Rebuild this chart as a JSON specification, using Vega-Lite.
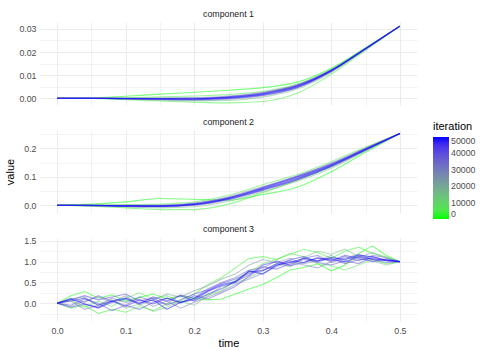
{
"$schema": "https://vega.github.io/schema/vega-lite/v6.json",
"padding": {"left": 4, "top": 10, "right": 4, "bottom": 4},
"spacing": 12,
"datasets": {
"c1": [
{"i":0,"t":0,"v":0},{"i":0,"t":0.05,"v":0.0001},{"i":0,"t":0.1,"v":0.0009},{"i":0,"t":0.15,"v":0.0018},{"i":0,"t":0.2,"v":0.0026},{"i":0,"t":0.25,"v":0.0035},{"i":0,"t":0.3,"v":0.0046},{"i":0,"t":0.35,"v":0.007},{"i":0,"t":0.4,"v":0.013},{"i":0,"t":0.45,"v":0.0219},{"i":0,"t":0.5,"v":0.0312},
{"i":2500,"t":0,"v":0},{"i":2500,"t":0.05,"v":-0.0001},{"i":2500,"t":0.1,"v":-0.0006},{"i":2500,"t":0.15,"v":-0.0012},{"i":2500,"t":0.2,"v":-0.0017},{"i":2500,"t":0.25,"v":-0.002},{"i":2500,"t":0.3,"v":-0.0014},{"i":2500,"t":0.35,"v":0.0022},{"i":2500,"t":0.4,"v":0.0104},{"i":2500,"t":0.45,"v":0.0208},{"i":2500,"t":0.5,"v":0.0312},
{"i":5000,"t":0,"v":0},{"i":5000,"t":0.05,"v":0},{"i":5000,"t":0.1,"v":0.0002},{"i":5000,"t":0.15,"v":0.0006},{"i":5000,"t":0.2,"v":0.001},{"i":5000,"t":0.25,"v":0.0016},{"i":5000,"t":0.3,"v":0.003},{"i":5000,"t":0.35,"v":0.0062},{"i":5000,"t":0.4,"v":0.0126},{"i":5000,"t":0.45,"v":0.0218},{"i":5000,"t":0.5,"v":0.0312},
{"i":15000,"t":0,"v":0},{"i":15000,"t":0.05,"v":0},{"i":15000,"t":0.1,"v":-0.0004},{"i":15000,"t":0.15,"v":-0.0008},{"i":15000,"t":0.2,"v":-0.0011},{"i":15000,"t":0.25,"v":-0.0009},{"i":15000,"t":0.3,"v":0.0005},{"i":15000,"t":0.35,"v":0.004},{"i":15000,"t":0.4,"v":0.0112},{"i":15000,"t":0.45,"v":0.0211},{"i":15000,"t":0.5,"v":0.0312},
{"i":25000,"t":0,"v":0},{"i":25000,"t":0.05,"v":0},{"i":25000,"t":0.1,"v":0.0001},{"i":25000,"t":0.15,"v":0.0002},{"i":25000,"t":0.2,"v":0.0003},{"i":25000,"t":0.25,"v":0.001},{"i":25000,"t":0.3,"v":0.0025},{"i":25000,"t":0.35,"v":0.0058},{"i":25000,"t":0.4,"v":0.0123},{"i":25000,"t":0.45,"v":0.0216},{"i":25000,"t":0.5,"v":0.0312},
{"i":30000,"t":0,"v":0},{"i":30000,"t":0.05,"v":0},{"i":30000,"t":0.1,"v":-0.0003},{"i":30000,"t":0.15,"v":-0.0006},{"i":30000,"t":0.2,"v":-0.0008},{"i":30000,"t":0.25,"v":-0.0004},{"i":30000,"t":0.3,"v":0.0011},{"i":30000,"t":0.35,"v":0.0046},{"i":30000,"t":0.4,"v":0.0116},{"i":30000,"t":0.45,"v":0.0213},{"i":30000,"t":0.5,"v":0.0312},
{"i":35000,"t":0,"v":0},{"i":35000,"t":0.05,"v":0},{"i":35000,"t":0.1,"v":0},{"i":35000,"t":0.15,"v":-0.0001},{"i":35000,"t":0.2,"v":0},{"i":35000,"t":0.25,"v":0.0007},{"i":35000,"t":0.3,"v":0.0022},{"i":35000,"t":0.35,"v":0.0055},{"i":35000,"t":0.4,"v":0.0121},{"i":35000,"t":0.45,"v":0.0215},{"i":35000,"t":0.5,"v":0.0312},
{"i":40000,"t":0,"v":0},{"i":40000,"t":0.05,"v":0},{"i":40000,"t":0.1,"v":-0.0002},{"i":40000,"t":0.15,"v":-0.0004},{"i":40000,"t":0.2,"v":-0.0005},{"i":40000,"t":0.25,"v":0},{"i":40000,"t":0.3,"v":0.0015},{"i":40000,"t":0.35,"v":0.0049},{"i":40000,"t":0.4,"v":0.0118},{"i":40000,"t":0.45,"v":0.0214},{"i":40000,"t":0.5,"v":0.0312},
{"i":42500,"t":0,"v":0},{"i":42500,"t":0.05,"v":0},{"i":42500,"t":0.1,"v":-0.0001},{"i":42500,"t":0.15,"v":-0.0001},{"i":42500,"t":0.2,"v":0},{"i":42500,"t":0.25,"v":0.0007},{"i":42500,"t":0.3,"v":0.0024},{"i":42500,"t":0.35,"v":0.0057},{"i":42500,"t":0.4,"v":0.0122},{"i":42500,"t":0.45,"v":0.0216},{"i":42500,"t":0.5,"v":0.0312},
{"i":45000,"t":0,"v":0},{"i":45000,"t":0.05,"v":0},{"i":45000,"t":0.1,"v":-0.0003},{"i":45000,"t":0.15,"v":-0.0005},{"i":45000,"t":0.2,"v":-0.0006},{"i":45000,"t":0.25,"v":-0.0001},{"i":45000,"t":0.3,"v":0.0013},{"i":45000,"t":0.35,"v":0.0046},{"i":45000,"t":0.4,"v":0.0117},{"i":45000,"t":0.45,"v":0.0213},{"i":45000,"t":0.5,"v":0.0312},
{"i":47500,"t":0,"v":0},{"i":47500,"t":0.05,"v":0},{"i":47500,"t":0.1,"v":-0.0001},{"i":47500,"t":0.15,"v":-0.0002},{"i":47500,"t":0.2,"v":-0.0002},{"i":47500,"t":0.25,"v":0.0004},{"i":47500,"t":0.3,"v":0.002},{"i":47500,"t":0.35,"v":0.0053},{"i":47500,"t":0.4,"v":0.012},{"i":47500,"t":0.45,"v":0.0215},{"i":47500,"t":0.5,"v":0.0312},
{"i":50000,"t":0,"v":0},{"i":50000,"t":0.05,"v":0},{"i":50000,"t":0.1,"v":-0.0001},{"i":50000,"t":0.15,"v":-0.0002},{"i":50000,"t":0.2,"v":-0.0003},{"i":50000,"t":0.25,"v":0.0003},{"i":50000,"t":0.3,"v":0.0018},{"i":50000,"t":0.35,"v":0.0051},{"i":50000,"t":0.4,"v":0.012},{"i":50000,"t":0.45,"v":0.0215},{"i":50000,"t":0.5,"v":0.0312}
],
"c2": [
{"i":0,"t":0,"v":0},{"i":0,"t":0.05,"v":0.004},{"i":0,"t":0.1,"v":0.012},{"i":0,"t":0.15,"v":0.024},{"i":0,"t":0.2,"v":0.021},{"i":0,"t":0.25,"v":0.018},{"i":0,"t":0.3,"v":0.038},{"i":0,"t":0.35,"v":0.063},{"i":0,"t":0.4,"v":0.118},{"i":0,"t":0.45,"v":0.186},{"i":0,"t":0.5,"v":0.252},
{"i":2500,"t":0,"v":0},{"i":2500,"t":0.05,"v":-0.003},{"i":2500,"t":0.1,"v":-0.009},{"i":2500,"t":0.15,"v":-0.015},{"i":2500,"t":0.2,"v":-0.015},{"i":2500,"t":0.25,"v":0.004},{"i":2500,"t":0.3,"v":0.044},{"i":2500,"t":0.35,"v":0.088},{"i":2500,"t":0.4,"v":0.138},{"i":2500,"t":0.45,"v":0.196},{"i":2500,"t":0.5,"v":0.252},
{"i":5000,"t":0,"v":0},{"i":5000,"t":0.05,"v":0.001},{"i":5000,"t":0.1,"v":0.002},{"i":5000,"t":0.15,"v":0.004},{"i":5000,"t":0.2,"v":0.012},{"i":5000,"t":0.25,"v":0.035},{"i":5000,"t":0.3,"v":0.072},{"i":5000,"t":0.35,"v":0.108},{"i":5000,"t":0.4,"v":0.153},{"i":5000,"t":0.45,"v":0.204},{"i":5000,"t":0.5,"v":0.252},
{"i":15000,"t":0,"v":0},{"i":15000,"t":0.05,"v":-0.002},{"i":15000,"t":0.1,"v":-0.006},{"i":15000,"t":0.15,"v":-0.009},{"i":15000,"t":0.2,"v":-0.005},{"i":15000,"t":0.25,"v":0.014},{"i":15000,"t":0.3,"v":0.048},{"i":15000,"t":0.35,"v":0.084},{"i":15000,"t":0.4,"v":0.13},{"i":15000,"t":0.45,"v":0.19},{"i":15000,"t":0.5,"v":0.252},
{"i":25000,"t":0,"v":0},{"i":25000,"t":0.05,"v":0},{"i":25000,"t":0.1,"v":0.001},{"i":25000,"t":0.15,"v":0.001},{"i":25000,"t":0.2,"v":0.008},{"i":25000,"t":0.25,"v":0.03},{"i":25000,"t":0.3,"v":0.066},{"i":25000,"t":0.35,"v":0.102},{"i":25000,"t":0.4,"v":0.148},{"i":25000,"t":0.45,"v":0.201},{"i":25000,"t":0.5,"v":0.252},
{"i":30000,"t":0,"v":0},{"i":30000,"t":0.05,"v":-0.001},{"i":30000,"t":0.1,"v":-0.004},{"i":30000,"t":0.15,"v":-0.006},{"i":30000,"t":0.2,"v":0},{"i":30000,"t":0.25,"v":0.019},{"i":30000,"t":0.3,"v":0.052},{"i":30000,"t":0.35,"v":0.089},{"i":30000,"t":0.4,"v":0.135},{"i":30000,"t":0.45,"v":0.193},{"i":30000,"t":0.5,"v":0.252},
{"i":35000,"t":0,"v":0},{"i":35000,"t":0.05,"v":0},{"i":35000,"t":0.1,"v":-0.001},{"i":35000,"t":0.15,"v":-0.002},{"i":35000,"t":0.2,"v":0.005},{"i":35000,"t":0.25,"v":0.027},{"i":35000,"t":0.3,"v":0.062},{"i":35000,"t":0.35,"v":0.099},{"i":35000,"t":0.4,"v":0.144},{"i":35000,"t":0.45,"v":0.199},{"i":35000,"t":0.5,"v":0.252},
{"i":40000,"t":0,"v":0},{"i":40000,"t":0.05,"v":-0.001},{"i":40000,"t":0.1,"v":-0.003},{"i":40000,"t":0.15,"v":-0.004},{"i":40000,"t":0.2,"v":0.002},{"i":40000,"t":0.25,"v":0.022},{"i":40000,"t":0.3,"v":0.055},{"i":40000,"t":0.35,"v":0.092},{"i":40000,"t":0.4,"v":0.138},{"i":40000,"t":0.45,"v":0.195},{"i":40000,"t":0.5,"v":0.252},
{"i":42500,"t":0,"v":0},{"i":42500,"t":0.05,"v":0},{"i":42500,"t":0.1,"v":-0.001},{"i":42500,"t":0.15,"v":-0.001},{"i":42500,"t":0.2,"v":0.006},{"i":42500,"t":0.25,"v":0.027},{"i":42500,"t":0.3,"v":0.063},{"i":42500,"t":0.35,"v":0.103},{"i":42500,"t":0.4,"v":0.146},{"i":42500,"t":0.45,"v":0.199},{"i":42500,"t":0.5,"v":0.252},
{"i":45000,"t":0,"v":0},{"i":45000,"t":0.05,"v":-0.001},{"i":45000,"t":0.1,"v":-0.003},{"i":45000,"t":0.15,"v":-0.004},{"i":45000,"t":0.2,"v":0.001},{"i":45000,"t":0.25,"v":0.021},{"i":45000,"t":0.3,"v":0.054},{"i":45000,"t":0.35,"v":0.09},{"i":45000,"t":0.4,"v":0.136},{"i":45000,"t":0.45,"v":0.193},{"i":45000,"t":0.5,"v":0.252},
{"i":47500,"t":0,"v":0},{"i":47500,"t":0.05,"v":0},{"i":47500,"t":0.1,"v":-0.002},{"i":47500,"t":0.15,"v":-0.002},{"i":47500,"t":0.2,"v":0.004},{"i":47500,"t":0.25,"v":0.025},{"i":47500,"t":0.3,"v":0.06},{"i":47500,"t":0.35,"v":0.099},{"i":47500,"t":0.4,"v":0.142},{"i":47500,"t":0.45,"v":0.197},{"i":47500,"t":0.5,"v":0.252},
{"i":50000,"t":0,"v":0},{"i":50000,"t":0.05,"v":0},{"i":50000,"t":0.1,"v":-0.002},{"i":50000,"t":0.15,"v":-0.003},{"i":50000,"t":0.2,"v":0.003},{"i":50000,"t":0.25,"v":0.024},{"i":50000,"t":0.3,"v":0.058},{"i":50000,"t":0.35,"v":0.095},{"i":50000,"t":0.4,"v":0.14},{"i":50000,"t":0.45,"v":0.196},{"i":50000,"t":0.5,"v":0.252}
],
"c3": [
{"i":0,"t":0,"v":0},{"i":0,"t":0.02,"v":0.18},{"i":0,"t":0.04,"v":0.28},{"i":0,"t":0.06,"v":0.12},{"i":0,"t":0.08,"v":0.2},{"i":0,"t":0.1,"v":0.05},{"i":0,"t":0.12,"v":0.14},{"i":0,"t":0.14,"v":0.22},{"i":0,"t":0.16,"v":0.1},{"i":0,"t":0.18,"v":0.18},{"i":0,"t":0.2,"v":0.12},{"i":0,"t":0.22,"v":0.08},{"i":0,"t":0.24,"v":0.1},{"i":0,"t":0.26,"v":0.22},{"i":0,"t":0.28,"v":0.34},{"i":0,"t":0.3,"v":0.45},{"i":0,"t":0.32,"v":0.62},{"i":0,"t":0.34,"v":0.8},{"i":0,"t":0.36,"v":0.86},{"i":0,"t":0.38,"v":0.95},{"i":0,"t":0.4,"v":0.78},{"i":0,"t":0.42,"v":0.92},{"i":0,"t":0.44,"v":1.2},{"i":0,"t":0.46,"v":1.38},{"i":0,"t":0.48,"v":1.15},{"i":0,"t":0.5,"v":1},
{"i":2500,"t":0,"v":0},{"i":2500,"t":0.02,"v":-0.12},{"i":2500,"t":0.04,"v":-0.05},{"i":2500,"t":0.06,"v":-0.25},{"i":2500,"t":0.08,"v":-0.15},{"i":2500,"t":0.1,"v":-0.22},{"i":2500,"t":0.12,"v":-0.08},{"i":2500,"t":0.14,"v":-0.18},{"i":2500,"t":0.16,"v":-0.02},{"i":2500,"t":0.18,"v":0.05},{"i":2500,"t":0.2,"v":0.22},{"i":2500,"t":0.22,"v":0.45},{"i":2500,"t":0.24,"v":0.62},{"i":2500,"t":0.26,"v":0.85},{"i":2500,"t":0.28,"v":1.08},{"i":2500,"t":0.3,"v":1.12},{"i":2500,"t":0.32,"v":1.05},{"i":2500,"t":0.34,"v":1.18},{"i":2500,"t":0.36,"v":1.3},{"i":2500,"t":0.38,"v":1.22},{"i":2500,"t":0.4,"v":1.08},{"i":2500,"t":0.42,"v":1.25},{"i":2500,"t":0.44,"v":1.35},{"i":2500,"t":0.46,"v":1.2},{"i":2500,"t":0.48,"v":1.12},{"i":2500,"t":0.5,"v":1},
{"i":5000,"t":0,"v":0},{"i":5000,"t":0.02,"v":0.08},{"i":5000,"t":0.04,"v":-0.1},{"i":5000,"t":0.06,"v":0.05},{"i":5000,"t":0.08,"v":-0.08},{"i":5000,"t":0.1,"v":0.12},{"i":5000,"t":0.12,"v":0.25},{"i":5000,"t":0.14,"v":0.1},{"i":5000,"t":0.16,"v":0.18},{"i":5000,"t":0.18,"v":0.02},{"i":5000,"t":0.2,"v":0.1},{"i":5000,"t":0.22,"v":0.2},{"i":5000,"t":0.24,"v":0.3},{"i":5000,"t":0.26,"v":0.55},{"i":5000,"t":0.28,"v":0.75},{"i":5000,"t":0.3,"v":0.95},{"i":5000,"t":0.32,"v":1.05},{"i":5000,"t":0.34,"v":1.2},{"i":5000,"t":0.36,"v":1.12},{"i":5000,"t":0.38,"v":0.95},{"i":5000,"t":0.4,"v":0.9},{"i":5000,"t":0.42,"v":0.8},{"i":5000,"t":0.44,"v":0.92},{"i":5000,"t":0.46,"v":1.05},{"i":5000,"t":0.48,"v":0.95},{"i":5000,"t":0.5,"v":1},
{"i":15000,"t":0,"v":0},{"i":15000,"t":0.02,"v":0.1},{"i":15000,"t":0.04,"v":0.15},{"i":15000,"t":0.06,"v":-0.05},{"i":15000,"t":0.08,"v":0.08},{"i":15000,"t":0.1,"v":-0.12},{"i":15000,"t":0.12,"v":-0.02},{"i":15000,"t":0.14,"v":-0.2},{"i":15000,"t":0.16,"v":-0.1},{"i":15000,"t":0.18,"v":0.05},{"i":15000,"t":0.2,"v":-0.05},{"i":15000,"t":0.22,"v":0.18},{"i":15000,"t":0.24,"v":0.4},{"i":15000,"t":0.26,"v":0.48},{"i":15000,"t":0.28,"v":0.62},{"i":15000,"t":0.3,"v":0.78},{"i":15000,"t":0.32,"v":0.95},{"i":15000,"t":0.34,"v":0.88},{"i":15000,"t":0.36,"v":1.1},{"i":15000,"t":0.38,"v":1.25},{"i":15000,"t":0.4,"v":1.18},{"i":15000,"t":0.42,"v":1.3},{"i":15000,"t":0.44,"v":1.12},{"i":15000,"t":0.46,"v":1.02},{"i":15000,"t":0.48,"v":0.92},{"i":15000,"t":0.5,"v":1},
{"i":25000,"t":0,"v":0},{"i":25000,"t":0.02,"v":-0.08},{"i":25000,"t":0.04,"v":0.05},{"i":25000,"t":0.06,"v":0.15},{"i":25000,"t":0.08,"v":0.02},{"i":25000,"t":0.1,"v":0.18},{"i":25000,"t":0.12,"v":-0.05},{"i":25000,"t":0.14,"v":0.08},{"i":25000,"t":0.16,"v":0.22},{"i":25000,"t":0.18,"v":0.15},{"i":25000,"t":0.2,"v":0.3},{"i":25000,"t":0.22,"v":0.42},{"i":25000,"t":0.24,"v":0.58},{"i":25000,"t":0.26,"v":0.7},{"i":25000,"t":0.28,"v":0.92},{"i":25000,"t":0.3,"v":1.05},{"i":25000,"t":0.32,"v":0.98},{"i":25000,"t":0.34,"v":1.08},{"i":25000,"t":0.36,"v":0.95},{"i":25000,"t":0.38,"v":1.02},{"i":25000,"t":0.4,"v":1.15},{"i":25000,"t":0.42,"v":0.98},{"i":25000,"t":0.44,"v":1.1},{"i":25000,"t":0.46,"v":1.22},{"i":25000,"t":0.48,"v":1.08},{"i":25000,"t":0.5,"v":1},
{"i":30000,"t":0,"v":0},{"i":30000,"t":0.02,"v":0.05},{"i":30000,"t":0.04,"v":-0.15},{"i":30000,"t":0.06,"v":-0.05},{"i":30000,"t":0.08,"v":0.12},{"i":30000,"t":0.1,"v":0.02},{"i":30000,"t":0.12,"v":0.1},{"i":30000,"t":0.14,"v":-0.08},{"i":30000,"t":0.16,"v":0.05},{"i":30000,"t":0.18,"v":-0.12},{"i":30000,"t":0.2,"v":0.02},{"i":30000,"t":0.22,"v":0.15},{"i":30000,"t":0.24,"v":0.28},{"i":30000,"t":0.26,"v":0.45},{"i":30000,"t":0.28,"v":0.58},{"i":30000,"t":0.3,"v":0.72},{"i":30000,"t":0.32,"v":0.88},{"i":30000,"t":0.34,"v":1},{"i":30000,"t":0.36,"v":0.92},{"i":30000,"t":0.38,"v":0.85},{"i":30000,"t":0.4,"v":1},{"i":30000,"t":0.42,"v":1.12},{"i":30000,"t":0.44,"v":1.02},{"i":30000,"t":0.46,"v":1.15},{"i":30000,"t":0.48,"v":1.1},{"i":30000,"t":0.5,"v":1},
{"i":35000,"t":0,"v":0},{"i":35000,"t":0.02,"v":0.12},{"i":35000,"t":0.04,"v":0.02},{"i":35000,"t":0.06,"v":0.18},{"i":35000,"t":0.08,"v":0.05},{"i":35000,"t":0.1,"v":-0.05},{"i":35000,"t":0.12,"v":0.15},{"i":35000,"t":0.14,"v":0.05},{"i":35000,"t":0.16,"v":-0.02},{"i":35000,"t":0.18,"v":0.2},{"i":35000,"t":0.2,"v":0.12},{"i":35000,"t":0.22,"v":0.35},{"i":35000,"t":0.24,"v":0.5},{"i":35000,"t":0.26,"v":0.62},{"i":35000,"t":0.28,"v":0.8},{"i":35000,"t":0.3,"v":0.85},{"i":35000,"t":0.32,"v":1.02},{"i":35000,"t":0.34,"v":0.92},{"i":35000,"t":0.36,"v":1.08},{"i":35000,"t":0.38,"v":1.15},{"i":35000,"t":0.4,"v":0.98},{"i":35000,"t":0.42,"v":1.08},{"i":35000,"t":0.44,"v":1.18},{"i":35000,"t":0.46,"v":1.05},{"i":35000,"t":0.48,"v":0.98},{"i":35000,"t":0.5,"v":1},
{"i":40000,"t":0,"v":0},{"i":40000,"t":0.02,"v":-0.05},{"i":40000,"t":0.04,"v":0.1},{"i":40000,"t":0.06,"v":0},{"i":40000,"t":0.08,"v":-0.18},{"i":40000,"t":0.1,"v":-0.05},{"i":40000,"t":0.12,"v":-0.15},{"i":40000,"t":0.14,"v":0.02},{"i":40000,"t":0.16,"v":0.12},{"i":40000,"t":0.18,"v":0},{"i":40000,"t":0.2,"v":0.18},{"i":40000,"t":0.22,"v":0.1},{"i":40000,"t":0.24,"v":0.25},{"i":40000,"t":0.26,"v":0.4},{"i":40000,"t":0.28,"v":0.65},{"i":40000,"t":0.3,"v":0.88},{"i":40000,"t":0.32,"v":0.82},{"i":40000,"t":0.34,"v":0.95},{"i":40000,"t":0.36,"v":1.05},{"i":40000,"t":0.38,"v":0.98},{"i":40000,"t":0.4,"v":0.92},{"i":40000,"t":0.42,"v":1.02},{"i":40000,"t":0.44,"v":0.95},{"i":40000,"t":0.46,"v":1.12},{"i":40000,"t":0.48,"v":1.02},{"i":40000,"t":0.5,"v":1},
{"i":42500,"t":0,"v":0},{"i":42500,"t":0.02,"v":0.08},{"i":42500,"t":0.04,"v":0.18},{"i":42500,"t":0.06,"v":0.08},{"i":42500,"t":0.08,"v":0.15},{"i":42500,"t":0.1,"v":0.22},{"i":42500,"t":0.12,"v":0.05},{"i":42500,"t":0.14,"v":0.12},{"i":42500,"t":0.16,"v":-0.05},{"i":42500,"t":0.18,"v":0.08},{"i":42500,"t":0.2,"v":0.22},{"i":42500,"t":0.22,"v":0.32},{"i":42500,"t":0.24,"v":0.48},{"i":42500,"t":0.26,"v":0.58},{"i":42500,"t":0.28,"v":0.72},{"i":42500,"t":0.3,"v":0.8},{"i":42500,"t":0.32,"v":0.9},{"i":42500,"t":0.34,"v":1.05},{"i":42500,"t":0.36,"v":1.12},{"i":42500,"t":0.38,"v":1},{"i":42500,"t":0.4,"v":1.08},{"i":42500,"t":0.42,"v":0.95},{"i":42500,"t":0.44,"v":1.05},{"i":42500,"t":0.46,"v":1.08},{"i":42500,"t":0.48,"v":1.02},{"i":42500,"t":0.5,"v":1},
{"i":45000,"t":0,"v":0},{"i":45000,"t":0.02,"v":-0.1},{"i":45000,"t":0.04,"v":-0.02},{"i":45000,"t":0.06,"v":-0.12},{"i":45000,"t":0.08,"v":0.02},{"i":45000,"t":0.1,"v":0.1},{"i":45000,"t":0.12,"v":-0.02},{"i":45000,"t":0.14,"v":0.15},{"i":45000,"t":0.16,"v":0.05},{"i":45000,"t":0.18,"v":0.18},{"i":45000,"t":0.2,"v":0.05},{"i":45000,"t":0.22,"v":0.22},{"i":45000,"t":0.24,"v":0.35},{"i":45000,"t":0.26,"v":0.52},{"i":45000,"t":0.28,"v":0.68},{"i":45000,"t":0.3,"v":0.92},{"i":45000,"t":0.32,"v":1},{"i":45000,"t":0.34,"v":0.9},{"i":45000,"t":0.36,"v":0.98},{"i":45000,"t":0.38,"v":1.1},{"i":45000,"t":0.4,"v":1.02},{"i":45000,"t":0.42,"v":1.15},{"i":45000,"t":0.44,"v":1.08},{"i":45000,"t":0.46,"v":1},{"i":45000,"t":0.48,"v":1.06},{"i":45000,"t":0.5,"v":1},
{"i":47500,"t":0,"v":0},{"i":47500,"t":0.02,"v":0.05},{"i":47500,"t":0.04,"v":0.12},{"i":47500,"t":0.06,"v":-0.05},{"i":47500,"t":0.08,"v":0.05},{"i":47500,"t":0.1,"v":-0.08},{"i":47500,"t":0.12,"v":0.08},{"i":47500,"t":0.14,"v":-0.02},{"i":47500,"t":0.16,"v":0.12},{"i":47500,"t":0.18,"v":0.02},{"i":47500,"t":0.2,"v":0.08},{"i":47500,"t":0.22,"v":0.28},{"i":47500,"t":0.24,"v":0.42},{"i":47500,"t":0.26,"v":0.5},{"i":47500,"t":0.28,"v":0.76},{"i":47500,"t":0.3,"v":0.78},{"i":47500,"t":0.32,"v":0.95},{"i":47500,"t":0.34,"v":1.02},{"i":47500,"t":0.36,"v":0.98},{"i":47500,"t":0.38,"v":1.08},{"i":47500,"t":0.4,"v":1.05},{"i":47500,"t":0.42,"v":1},{"i":47500,"t":0.44,"v":1.12},{"i":47500,"t":0.46,"v":1.06},{"i":47500,"t":0.48,"v":1.03},{"i":47500,"t":0.5,"v":1},
{"i":50000,"t":0,"v":0},{"i":50000,"t":0.02,"v":0.1},{"i":50000,"t":0.04,"v":-0.02},{"i":50000,"t":0.06,"v":-0.1},{"i":50000,"t":0.08,"v":0.05},{"i":50000,"t":0.1,"v":0.12},{"i":50000,"t":0.12,"v":0},{"i":50000,"t":0.14,"v":0.08},{"i":50000,"t":0.16,"v":-0.15},{"i":50000,"t":0.18,"v":0.02},{"i":50000,"t":0.2,"v":0.12},{"i":50000,"t":0.22,"v":0.3},{"i":50000,"t":0.24,"v":0.45},{"i":50000,"t":0.26,"v":0.52},{"i":50000,"t":0.28,"v":0.78},{"i":50000,"t":0.3,"v":0.7},{"i":50000,"t":0.32,"v":0.92},{"i":50000,"t":0.34,"v":0.98},{"i":50000,"t":0.36,"v":1.08},{"i":50000,"t":0.38,"v":1.02},{"i":50000,"t":0.4,"v":1.1},{"i":50000,"t":0.42,"v":1.05},{"i":50000,"t":0.44,"v":1.15},{"i":50000,"t":0.46,"v":1.12},{"i":50000,"t":0.48,"v":1.04},{"i":50000,"t":0.5,"v":1}
]
},
"config": {
  "view": {"stroke": null},
  "font": "Liberation Sans",
  "axis": {"domain": false, "ticks": false, "gridColor": "#ebebeb", "labelColor": "#4d4d4d", "labelFontSize": 8.8, "labelPadding": 4, "titleFontSize": 11, "titleFontWeight": "normal", "titleColor": "#000000"},
  "title": {"fontSize": 8.8, "fontWeight": "normal", "color": "#1a1a1a", "offset": 3},
  "line": {"strokeWidth": 1.1, "opacity": 0.5},
  "legend": {"orient": "none", "legendX": 393, "legendY": 99, "gradientLength": 82, "gradientThickness": 16, "gradientStrokeWidth": 0, "titleFontSize": 11, "titleFontWeight": "normal", "titleColor": "#000000", "labelFontSize": 8.8, "labelColor": "#4d4d4d", "labelOffset": 5}
},
"resolve": {"scale": {"color": "shared"}, "legend": {"color": "shared"}},
"vconcat": [
{
  "title": "component 1",
  "width": 377, "height": 83,
  "data": {"name": "c1"},
  "mark": {"type": "line", "interpolate": "monotone"},
  "encoding": {
    "x": {"field": "t", "type": "quantitative", "scale": {"domain": [-0.025, 0.525], "nice": false, "zero": false}, "axis": {"values": [0,0.05,0.1,0.15,0.2,0.25,0.3,0.35,0.4,0.45,0.5], "labels": false, "title": null, "gridWidth": {"condition": {"test": "abs(datum.value*10 - round(datum.value*10)) < 0.001", "value": 1}, "value": 0.6}}},
    "y": {"field": "v", "type": "quantitative", "scale": {"domain": [-0.0029, 0.033], "nice": false, "zero": false}, "axis": {"values": [0,0.005,0.01,0.015,0.02,0.025,0.03], "title": null, "labelExpr": "abs(datum.value*100 - round(datum.value*100)) < 0.001 ? format(datum.value, '.2f') : ''", "gridWidth": {"condition": {"test": "abs(datum.value*100 - round(datum.value*100)) < 0.001", "value": 1}, "value": 0.6}}},
    "color": {"field": "i", "type": "quantitative", "title": "iteration", "scale": {"domain": [0, 50000], "range": ["#00ff00", "#0000ff"], "interpolate": "lab"}, "legend": {"values": [0,10000,20000,30000,40000,50000], "format": "d"}},
    "detail": {"field": "i", "type": "nominal"}
  }
},
{
  "title": "component 2",
  "width": 377, "height": 83,
  "data": {"name": "c2"},
  "mark": {"type": "line", "interpolate": "monotone"},
  "encoding": {
    "x": {"field": "t", "type": "quantitative", "scale": {"domain": [-0.025, 0.525], "nice": false, "zero": false}, "axis": {"values": [0,0.05,0.1,0.15,0.2,0.25,0.3,0.35,0.4,0.45,0.5], "labels": false, "title": null, "gridWidth": {"condition": {"test": "abs(datum.value*10 - round(datum.value*10)) < 0.001", "value": 1}, "value": 0.6}}},
    "y": {"field": "v", "type": "quantitative", "scale": {"domain": [-0.027, 0.264], "nice": false, "zero": false}, "axis": {"values": [0,0.05,0.1,0.15,0.2,0.25], "title": "value", "titlePadding": 8, "labelExpr": "abs(datum.value*10 - round(datum.value*10)) < 0.001 ? format(datum.value, '.1f') : ''", "gridWidth": {"condition": {"test": "abs(datum.value*10 - round(datum.value*10)) < 0.001", "value": 1}, "value": 0.6}}},
    "color": {"field": "i", "type": "quantitative", "title": "iteration", "scale": {"domain": [0, 50000], "range": ["#00ff00", "#0000ff"], "interpolate": "lab"}, "legend": {"values": [0,10000,20000,30000,40000,50000], "format": "d"}},
    "detail": {"field": "i", "type": "nominal"}
  }
},
{
  "title": "component 3",
  "width": 377, "height": 83,
  "data": {"name": "c3"},
  "mark": {"type": "line"},
  "encoding": {
    "x": {"field": "t", "type": "quantitative", "scale": {"domain": [-0.025, 0.525], "nice": false, "zero": false}, "axis": {"values": [0,0.05,0.1,0.15,0.2,0.25,0.3,0.35,0.4,0.45,0.5], "title": "time", "labelPadding": 5, "titlePadding": 3, "labelExpr": "abs(datum.value*10 - round(datum.value*10)) < 0.001 ? format(datum.value, '.1f') : ''", "gridWidth": {"condition": {"test": "abs(datum.value*10 - round(datum.value*10)) < 0.001", "value": 1}, "value": 0.6}}},
    "y": {"field": "v", "type": "quantitative", "scale": {"domain": [-0.43, 1.57], "nice": false, "zero": false}, "axis": {"values": [-0.25,0,0.25,0.5,0.75,1,1.25,1.5], "title": null, "labelExpr": "abs(datum.value*2 - round(datum.value*2)) < 0.001 ? format(datum.value, '.1f') : ''", "gridWidth": {"condition": {"test": "abs(datum.value*2 - round(datum.value*2)) < 0.001", "value": 1}, "value": 0.6}}},
    "color": {"field": "i", "type": "quantitative", "title": "iteration", "scale": {"domain": [0, 50000], "range": ["#00ff00", "#0000ff"], "interpolate": "lab"}, "legend": {"values": [0,10000,20000,30000,40000,50000], "format": "d"}},
    "detail": {"field": "i", "type": "nominal"}
  }
}
]
}
